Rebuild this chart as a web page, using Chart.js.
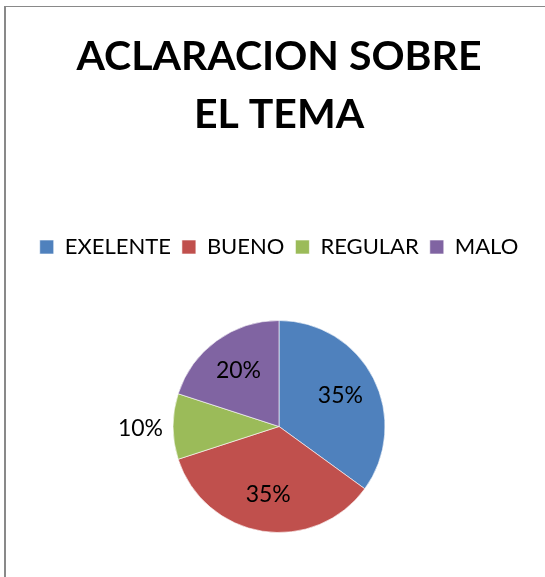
<!DOCTYPE html>
<html>
<head>
<meta charset="utf-8">
<script src="https://cdn.jsdelivr.net/npm/chart.js@4/dist/chart.umd.min.js"></script>
<style>
  html, body { margin: 0; padding: 0; background: #fff; overflow: hidden; width: 545px; height: 577px; }
  #frame { position: absolute; left: 4px; top: 6px; width: 546px; height: 571px;
           border-top: 1px solid #898989; border-left: 2px solid #898989; }
  #wrap { position: relative; width: 546px; height: 571px; }
</style>
</head>
<body>
<div id="frame"><div id="wrap"><canvas id="c"></canvas></div></div>
<script>
const titleLines = ['ACLARACION SOBRE', 'EL TEMA'];
const categories = ['EXELENTE', 'BUENO', 'REGULAR', 'MALO'];
const values = [35, 35, 10, 20];
const colors = ['#4F81BD', '#C0504D', '#9BBB59', '#8064A2'];

const FONT = 'Lato, Carlito, Calibri, "Open Sans", sans-serif';

const pctLabels = {
  id: 'pctLabels',
  afterDatasetsDraw(chart) {
    const ctx = chart.ctx;
    const meta = chart.getDatasetMeta(0);
    const data = chart.data.datasets[0].data;
    const total = data.reduce((a, b) => a + b, 0);
    ctx.save();
    ctx.font = '23px ' + FONT;
    ctx.fillStyle = '#000';
    ctx.textBaseline = 'middle';
    meta.data.forEach((arc, i) => {
      const p = arc.getProps(['x', 'y', 'startAngle', 'endAngle', 'outerRadius'], true);
      const mid = (p.startAngle + p.endAngle) / 2;
      const frac = data[i] / total;
      const txt = Math.round(frac * 100) + '%';
      if (frac < 0.15) {
        const r = p.outerRadius + 10;
        const x = p.x + Math.cos(mid) * r;
        const y = p.y + Math.sin(mid) * r;
        ctx.textAlign = Math.cos(mid) < 0 ? 'right' : 'left';
        ctx.fillText(txt, x, y + 2);
      } else {
        const r = p.outerRadius * 0.65;
        ctx.textAlign = 'center';
        ctx.fillText(txt, p.x + Math.cos(mid) * r, p.y + Math.sin(mid) * r);
      }
    });
    ctx.restore();
  }
};

new Chart(document.getElementById('c'), {
  type: 'pie',
  data: {
    labels: categories,
    datasets: [{
      data: values,
      backgroundColor: colors,
      borderColor: 'rgba(255,255,255,0.6)',
      borderWidth: 1,
      hoverOffset: 0,
      offset: 0
    }]
  },
  options: {
    responsive: true,
    maintainAspectRatio: false,
    animation: false,
    layout: { padding: { top: 0, bottom: 45, left: 0, right: 0 } },
    plugins: {
      title: {
        display: true,
        text: titleLines,
        color: '#000',
        font: { family: FONT, size: 41, weight: 'bold', lineHeight: 58 / 41 },
        padding: { top: 21, bottom: 81 }
      },
      subtitle: {
        display: true,
        text: '',
        weight: 500,
        font: { size: 10, lineHeight: 1 },
        padding: { top: 42, bottom: 0 }
      },
      legend: {
        display: true,
        position: 'top',
        labels: {
          color: '#000',
          font: { family: FONT, size: 22 },
          boxWidth: 14,
          boxHeight: 14,
          padding: 11
        }
      },
      tooltip: { enabled: false }
    }
  },
  plugins: [pctLabels]
});
</script>
</body>
</html>
